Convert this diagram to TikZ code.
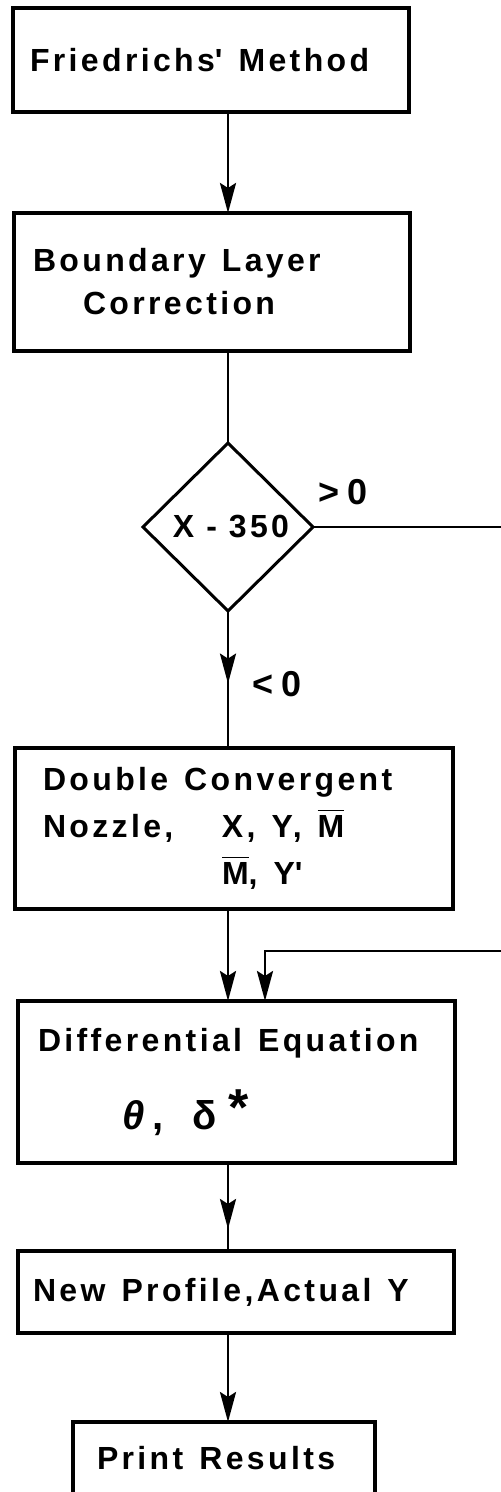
\documentclass[tikz,border=0pt]{standalone}
\usepackage{fontspec}
\usepackage{amsmath}
\usetikzlibrary{arrows.meta, positioning, shapes.geometric, decorations.markings}
\newfontfamily\lettering{Liberation Sans}[LetterSpace=10.5]
\newcommand{\lfont}{\lettering\bfseries\fontsize{16}{21}\selectfont}
\newcommand{\mbar}{$\overline{\text{M}}$}

\begin{document}
\begin{tikzpicture}[
      box/.style={rectangle, draw, line width=1.9pt, align=left, outer sep=0pt, inner ysep=0pt, font=\lfont,
        execute at begin node={\spaceskip=0.5em\relax}},
      test/.style={diamond, draw, line width=1.5pt, outer sep=0pt, inner sep=0pt, minimum width=85pt, minimum height=84pt, font=\lfont},
      lbl/.style={inner sep=0pt, font=\lettering\bfseries\fontsize{18}{18}\selectfont},
      arr/.style={line width=1.4pt, -{Stealth[length=15pt, width=8pt, inset=2.5pt]}},
      midarr/.style={line width=1.4pt, postaction={decorate},
        decoration={markings, mark=at position #1 with {\arrow{Stealth[length=15pt, width=8pt, inset=2.5pt]}}}},
    ]
    \useasboundingbox (0,0) rectangle (250.5pt,-746pt);
    \coordinate (rim) at (250.5pt,0);
    \coordinate (loopIn) at (250.5pt,-475.5pt);
    % flow chart boxes
    \node[box, text width=181pt, inner xsep=8.5pt, minimum height=52pt] (fried) at (105.5pt,-30pt) {Friedrichs\textquotesingle{} Method};
    \node[box, text width=179pt, inner xsep=9.5pt, minimum height=69pt, below=50.5pt of fried, xshift=0.5pt] (bl) {Boundary Layer\\[0.5pt]\hspace*{25pt}Correction};
    \node[test, below=46pt of bl, xshift=8pt] (dia) {\hspace*{3pt}X\hspace{6pt}-\hspace{6pt}350};
    \node[box, text width=191pt, inner xsep=14pt, minimum height=80.5pt, below=68.5pt of dia, xshift=3pt] (noz) {Double Convergent\\[2.5pt]\makebox[89.5pt][l]{Nozzle,}X, Y, \mbar\\[2.5pt]\hspace*{89.5pt}\mbar, Y\textquotesingle};
    \node[box, text width=198.5pt, inner xsep=10pt, minimum height=81pt, below=46pt of noz, xshift=1.25pt] (diff) {Differential Equation\\[15pt]{\fontsize{20}{20}\selectfont\hspace*{42pt}\makebox[15pt][l]{\itshape θ}\makebox[20pt][l]{,}\makebox[18pt][l]{δ}\raisebox{2pt}{\fontsize{26}{26}\selectfont *}}};
    \node[box, text width=203pt, inner xsep=7.5pt, minimum height=41pt, below=44pt of diff, xshift=-0.25pt] (prof) {New Profile,Actual Y};
    \node[box, text width=127pt, inner xsep=12pt, minimum height=36pt, below=44.5pt of prof, xshift=-6pt] (print) {Print Results};
    % connectors
    \draw[arr] (fried.south -| dia.north) -- (bl.north -| dia.north);
    \draw[line width=1.4pt] (bl.south -| dia.north) -- (dia.north);
    \draw[midarr=0.53] (dia.south) -- node[lbl, pos=0.53, right=11.5pt] (lt) {<\hspace{4pt}0} (dia.south |- noz.north);
    \draw[line width=1.4pt] (dia.east) -- (dia.east -| rim);
    \node[lbl, above right=11pt and 2.5pt of dia.east] (gt) {>\hspace{4pt}0};
    \draw[arr] (noz.south -| dia.south) -- (diff.north -| dia.south);
    \draw[arr] (loopIn) -| ([xshift=14.25pt]diff.north);
    \draw[midarr=0.75] (diff.south -| dia.south) -- (prof.north -| dia.south);
    \draw[arr] (prof.south -| dia.south) -- (print.north -| dia.south);
  \end{tikzpicture}
\end{document}
